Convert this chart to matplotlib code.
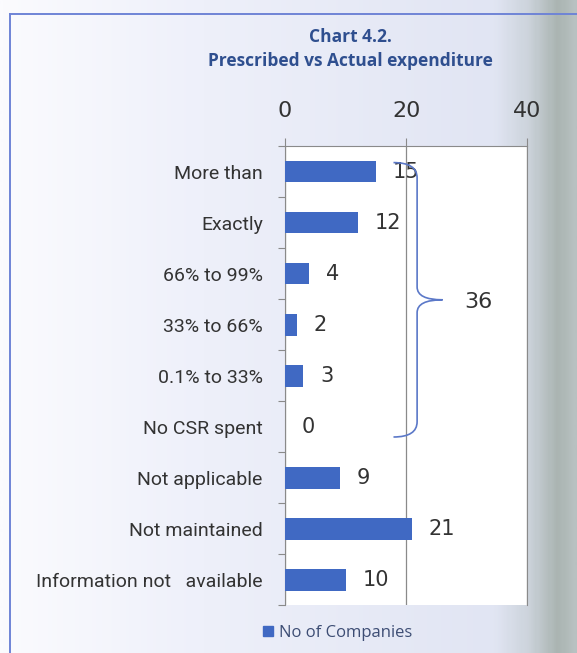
import numpy as np
import matplotlib.pyplot as plt
from matplotlib.path import Path
from matplotlib.patches import PathPatch, Rectangle
from matplotlib.colors import LinearSegmentedColormap

# chart data
categories = ["More than", "Exactly", "66% to 99%", "33% to 66%", "0.1% to 33%",
              "No CSR spent", "Not applicable", "Not maintained",
              "Information not   available"]
companies = [15, 12, 4, 2, 3, 0, 9, 21, 10]
bracket_n = 6          # first six categories are grouped by the brace
x_ticks = [0, 20, 40]

bar_color = "#4069c3"
text_color = "#333333"
title_color = "#2f4f8f"

fig = plt.figure(figsize=(5.77, 6.53), dpi=100)

# page background: light lavender with a scan shadow on the right edge
bg = fig.add_axes([0, 0, 1, 1], zorder=-10)
bg_cmap = LinearSegmentedColormap.from_list(
    "bg", [(0.0, "#fbfbfe"), (0.35, "#eef0fa"), (0.86, "#e1e5f3"),
           (0.92, "#ccd3db"), (0.97, "#aab4b1"), (1.0, "#b8c1c1")])
bg.imshow(np.linspace(0, 1, 300)[None, :], aspect="auto", cmap=bg_cmap,
          extent=[0, 1, 0, 1])
bg.add_line(plt.Line2D([0.018, 0.018], [0, 0.979], color="#6f84d6", lw=1.4))
bg.add_line(plt.Line2D([0.018, 1.0], [0.979, 0.979], color="#6f84d6", lw=1.4))
bg.set_xlim(0, 1)
bg.set_ylim(0, 1)
bg.axis("off")

ax = fig.add_axes([0.494, 0.073, 0.420, 0.703])
ax.set_facecolor("white")
y = np.arange(len(categories))
ax.barh(y, companies, height=0.42, color=bar_color, label="No of Companies",
        zorder=3)
ax.set_xlim(0, 40)
ax.set_ylim(len(categories) - 0.5, -0.5)

ax.xaxis.tick_top()
ax.set_xticks(x_ticks)
ax.tick_params(axis="x", length=6, width=0.8, color="#8a8a8a", pad=12,
               labelsize=16, labelcolor=text_color)
ax.set_yticks(y)
ax.set_yticklabels(categories, family="Roboto")
ax.set_yticks(np.arange(len(categories) + 1) - 0.5, minor=True)
ax.tick_params(axis="y", which="major", length=0, pad=16, labelsize=14,
               labelcolor=text_color)
ax.tick_params(axis="y", which="minor", length=5, width=0.8, color="#8a8a8a")
ax.grid(axis="x", color="#8a8a8a", lw=0.9, zorder=1)
for side in ["top", "left", "right"]:
    ax.spines[side].set_color("#8a8a8a")
ax.spines["bottom"].set_visible(False)

for yi, v in zip(y, companies):
    ax.annotate(str(v), (v, yi), xytext=(12, 0), textcoords="offset points",
                ha="left", va="center", fontsize=15, color=text_color, zorder=4)

# brace grouping the first categories
total = sum(companies[:bracket_n])
top, bot = -0.18, bracket_n - 0.8
mid = (top + bot) / 2
xb, xl, xt = 21.8, 17.9, 26.0
verts = [(xl, top), (xb, top), (xb, top + 0.3),
         (xb, mid - 0.25), (xb, mid), (xt, mid),
         (xb, mid), (xb, mid + 0.25),
         (xb, bot - 0.3), (xb, bot), (xl, bot)]
codes = [Path.MOVETO, Path.CURVE3, Path.CURVE3,
         Path.LINETO, Path.CURVE3, Path.CURVE3,
         Path.CURVE3, Path.CURVE3,
         Path.LINETO, Path.CURVE3, Path.CURVE3]
ax.add_patch(PathPatch(Path(verts, codes), fill=False, ec="#5b78c8", lw=1.2,
                       zorder=5, clip_on=False))
ax.text(31.9, mid + 0.05, str(total), ha="center", va="center", fontsize=16,
        color=text_color, zorder=5)

fig.text(0.607, 0.943, "Chart 4.2.", ha="center", va="center", fontsize=12.5,
         fontweight="bold", color=title_color, family="Open Sans")
fig.text(0.607, 0.907, "Prescribed vs Actual expenditure", ha="center",
         va="center", fontsize=12.5, fontweight="bold", color=title_color,
         family="Open Sans")

leg = fig.legend(handles=[Rectangle((0, 0), 1, 1, color=bar_color)],
                 labels=["No of Companies"], loc="center",
                 bbox_to_anchor=(0.585, 0.031), frameon=False,
                 handlelength=0.6, handleheight=0.6, handletextpad=0.4,
                 prop={"family": "Open Sans", "size": 12})
for t in leg.get_texts():
    t.set_color("#3d4d74")

fig.savefig("out.png", dpi=100)
